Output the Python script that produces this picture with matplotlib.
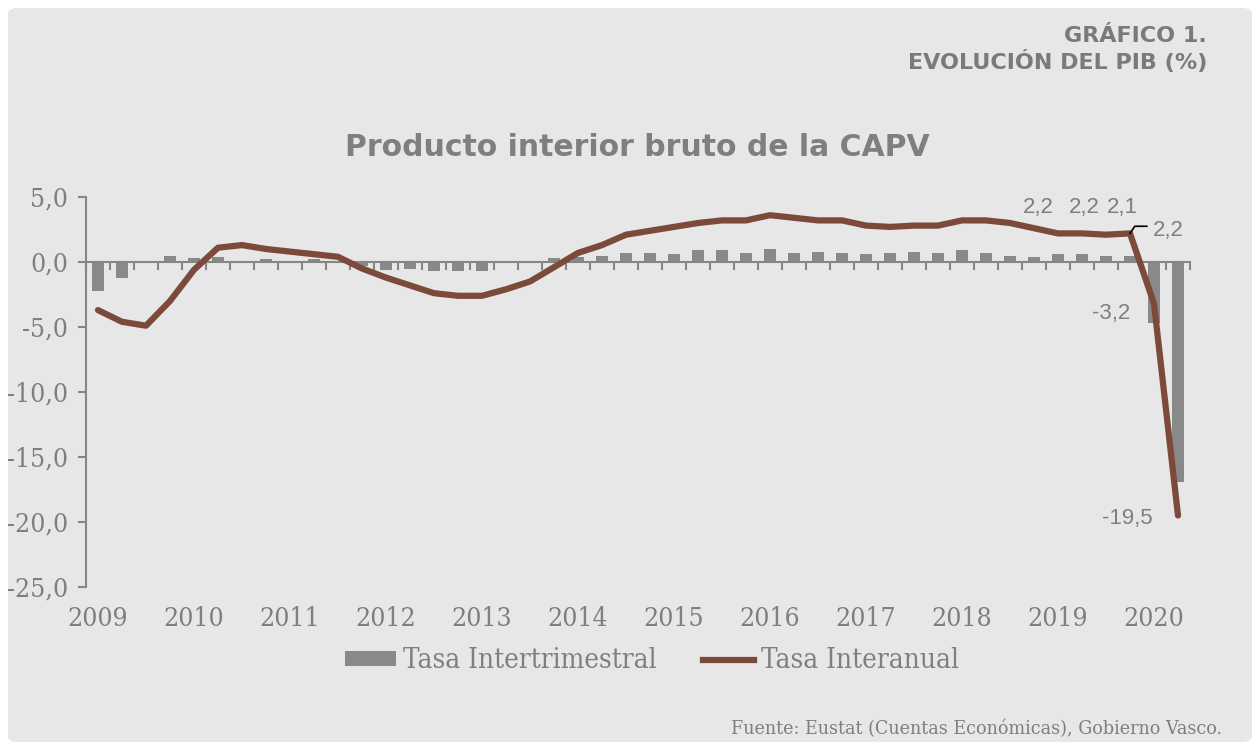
import matplotlib
matplotlib.use('Agg')
import matplotlib.pyplot as plt
from matplotlib.patches import FancyBboxPatch
from matplotlib.lines import Line2D
from matplotlib.patches import Patch
import numpy as np

# quarterly data, 2009Q1 .. 2020Q2
years = ['2009', '2010', '2011', '2012', '2013', '2014', '2015', '2016', '2017', '2018', '2019', '2020']
intertrimestral = [-2.2, -1.2, -0.1, 0.5, 0.3, 0.4, 0.1, 0.2,
                   0.1, 0.2, -0.1, -0.3, -0.6, -0.5, -0.7, -0.7,
                   -0.7, 0.0, -0.05, 0.3, 0.4, 0.5, 0.7, 0.7,
                   0.6, 0.9, 0.9, 0.7, 1.0, 0.7, 0.8, 0.7,
                   0.6, 0.7, 0.8, 0.7, 0.9, 0.7, 0.5, 0.4,
                   0.6, 0.6, 0.5, 0.5, -4.7, -16.9]
interanual = [-3.7, -4.6, -4.9, -3.0, -0.6, 1.1, 1.3, 1.0,
              0.8, 0.6, 0.4, -0.5, -1.2, -1.8, -2.4, -2.6,
              -2.6, -2.1, -1.5, -0.4, 0.7, 1.3, 2.1, 2.4,
              2.7, 3.0, 3.2, 3.2, 3.6, 3.4, 3.2, 3.2,
              2.8, 2.7, 2.8, 2.8, 3.2, 3.2, 3.0, 2.6,
              2.2, 2.2, 2.1, 2.2, -3.2, -19.5]

grey_txt = '#7f7f7f'
bar_col = '#898989'
line_col = '#7b4a3b'
bg = '#e7e7e7'
serif = dict(family='DejaVu Serif', stretch='condensed')

fig = plt.figure(figsize=(12.52, 7.42), dpi=100)
fig.patch.set_facecolor('white')
panel = FancyBboxPatch((8/1252, 0), 1 - 8/1252, 1 - 8/742,
                       boxstyle='round,pad=0,rounding_size=0.008',
                       transform=fig.transFigure, facecolor=bg, edgecolor='none', zorder=-5)
fig.patches.append(panel)

ax = fig.add_axes([86/1252, 1 - 587/742, (1190 - 86)/1252, 390/742])
ax.set_facecolor('none')

x = np.arange(len(intertrimestral))
ax.bar(x, intertrimestral, width=0.5, color=bar_col, zorder=2)
ax.plot(x, interanual, color=line_col, lw=4.5, solid_capstyle='round', zorder=3)

ax.set_xlim(-0.5, len(x) - 0.5)
ax.set_ylim(-25, 5)

# spines
for s in ['top', 'right']:
    ax.spines[s].set_visible(False)
ax.spines['left'].set_color('#868686')
ax.spines['left'].set_linewidth(1.5)
ax.spines['bottom'].set_position(('data', 0))
ax.spines['bottom'].set_color('#868686')
ax.spines['bottom'].set_linewidth(1.5)

ax.set_yticks(np.arange(-25, 6, 5))
ax.set_yticklabels([f'{v:.1f}'.replace('.', ',') for v in np.arange(-25, 6, 5)],
                   color=grey_txt, fontsize=19, **serif)
ax.tick_params(axis='y', direction='out', length=6, width=1.5, color='#868686', pad=7)

ax.set_xticks(np.arange(-0.5, len(x), 1))
ax.set_xticklabels([])
ax.tick_params(axis='x', direction='out', length=6, width=1.5, color='#868686')

for k, yr in enumerate(years):
    ax.text(4 * k, -27.45, yr, ha='center', va='center', color=grey_txt,
            fontsize=19, clip_on=False, **serif)

# data labels
lab_kw = dict(color=grey_txt, fontsize=16, family='Liberation Sans', ha='center', va='center')
ax.text(39.17, 4.23, '2,2', **lab_kw)
ax.text(41.1, 4.23, '2,2', **lab_kw)
ax.text(42.68, 4.23, '2,1', **lab_kw)
ax.text(44.6, 2.46, '2,2', **lab_kw)
ax.text(42.2, -4.0, '-3,2', **lab_kw)
ax.text(42.9, -19.7, '-19,5', **lab_kw)
ax.plot([43, 43.2, 43.7], [2.2, 2.75, 2.75], color='black', lw=1.2, zorder=4)

# legend
handles = [Patch(facecolor=bar_col, edgecolor='none', label='Tasa Intertrimestral'),
           Line2D([0], [0], color=line_col, lw=4.5, label='Tasa Interanual')]
leg = fig.legend(handles=handles, loc='center', bbox_to_anchor=(652/1252, 1 - 661/742),
                 ncol=2, frameon=False, prop=dict(size=20, **serif),
                 handlelength=1.85, handleheight=0.45, handletextpad=0.25,
                 columnspacing=1.65)
for t in leg.get_texts():
    t.set_color(grey_txt)

# titles
fig.text(1207/1252, 1 - 36/742, 'GRÁFICO 1.', ha='right', va='center',
         fontsize=16, fontweight='bold', color='#7a7a7a', family='DejaVu Sans')
fig.text(1207/1252, 1 - 62/742, 'EVOLUCIÓN DEL PIB (%)', ha='right', va='center',
         fontsize=16, fontweight='bold', color='#7a7a7a', family='DejaVu Sans')
fig.text(637/1252, 1 - 148/742, 'Producto interior bruto de la CAPV', ha='center', va='center',
         fontsize=21.5, fontweight='bold', color=grey_txt, family='DejaVu Sans')
fig.text(1222/1252, 1 - 729/742, 'Fuente: Eustat (Cuentas Económicas), Gobierno Vasco.',
         ha='right', va='center', fontsize=14, color=grey_txt, **serif)

fig.savefig('out.png', dpi=100, facecolor='white')
